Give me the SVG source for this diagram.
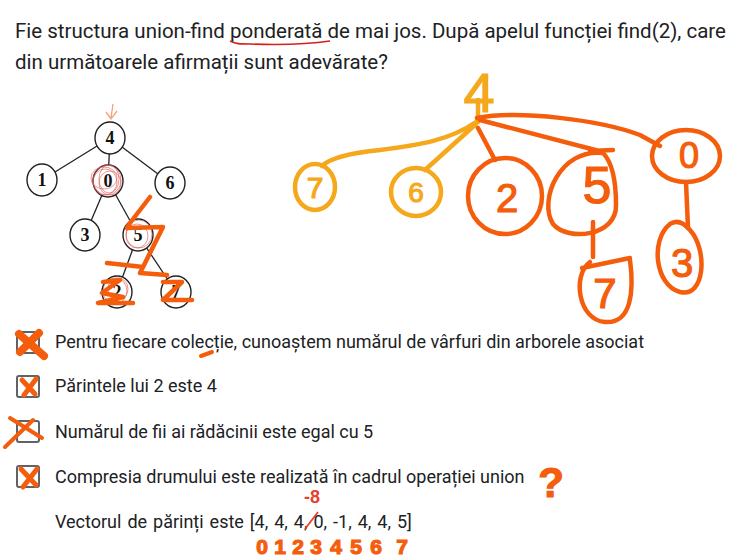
<svg xmlns="http://www.w3.org/2000/svg" width="754" height="560" viewBox="0 0 754 560">
<style>
.q{font-family:Roboto,"Liberation Sans",sans-serif;fill:#202124}
.t{font-size:20.5px}
.i{font-size:18px}
.box{fill:none;stroke:#5f6368;stroke-width:2}
.e{stroke:#222;stroke-width:1.3;fill:none}
.n{fill:#fff;stroke:#222;stroke-width:1.4}
.nl{font-family:"Liberation Serif",serif;font-weight:bold;font-size:18px;fill:#111;text-anchor:middle}
.o{fill:none;stroke:#f45d0c;stroke-width:4.5;stroke-linecap:round;stroke-linejoin:round}
.y{fill:none;stroke:#f5a81c;stroke-width:4.5;stroke-linecap:round;stroke-linejoin:round}
.ot{font-family:"Liberation Sans",sans-serif;fill:#f45d0c;stroke:#f45d0c;stroke-width:1.2;text-anchor:middle}
.yt{font-family:"Liberation Sans",sans-serif;fill:#f5a81c;stroke:#f5a81c;stroke-width:1.2;text-anchor:middle}
.rs{fill:none;stroke:#e05a5a;stroke-width:0.8;opacity:0.8}
.x{fill:none;stroke:#f45d0c;stroke-linecap:round;stroke-linejoin:round}
</style>
<rect width="754" height="560" fill="#fff"/>
<!-- question -->
<text class="q t" x="15" y="38">Fie structura union-find ponderată de mai jos. După apelul funcției find(2), care</text>
<text class="q t" x="15" y="69">din următoarele afirmații sunt adevărate?</text>
<path d="M230,41 C 236,44 240,44 250,44 C 280,45 310,44 330,41" fill="none" stroke="#d52020" stroke-width="1.6"/>
<!-- left tree connectors -->
<g id="connectors">
<line class="e" x1="110" y1="138" x2="42" y2="180"/>
<line class="e" x1="110" y1="138" x2="108" y2="181"/>
<line class="e" x1="110" y1="138" x2="170" y2="183"/>
<line class="e" x1="108" y1="181" x2="85" y2="235"/>
<line class="e" x1="108" y1="181" x2="138" y2="235"/>
<line class="e" x1="138" y1="235" x2="117" y2="292"/>
<line class="e" x1="138" y1="235" x2="176" y2="292"/>
</g>
<g id="n4"><ellipse class="n" cx="110" cy="138" rx="15" ry="16"/><text class="nl" x="110" y="144">4</text></g>
<g id="n1"><ellipse class="n" cx="42" cy="180" rx="15" ry="16"/><text class="nl" x="42" y="186">1</text></g>
<g id="n0"><ellipse class="n" cx="108" cy="181" rx="15" ry="16"/><text class="nl" x="108" y="187">0</text></g>
<g id="n6"><ellipse class="n" cx="170" cy="183" rx="15" ry="16"/><text class="nl" x="170" y="189">6</text></g>
<g id="n3"><ellipse class="n" cx="85" cy="235" rx="15" ry="16"/><text class="nl" x="85" y="241">3</text></g>
<g id="n5"><ellipse class="n" cx="138" cy="235" rx="15" ry="16"/><text class="nl" x="138" y="241">5</text></g>
<g id="n2"><ellipse class="n" cx="117" cy="292" rx="15" ry="16"/><text class="nl" x="117" y="298">2</text></g>
<g id="n7"><ellipse class="n" cx="176" cy="292" rx="15" ry="16"/><text class="nl" x="176" y="298">7</text></g>
<!-- red scribbles -->
<g>
<ellipse class="rs" cx="107" cy="180" rx="14" ry="15"/>
<ellipse class="rs" cx="105" cy="182" rx="12" ry="13"/>
<ellipse class="rs" cx="109" cy="179" rx="10" ry="14"/>
<ellipse class="rs" cx="104" cy="178" rx="13" ry="11"/>
<ellipse class="rs" cx="110" cy="183" rx="11" ry="12"/>
<ellipse class="rs" cx="139" cy="234" rx="13" ry="14"/>
<ellipse class="rs" cx="137" cy="236" rx="11" ry="12"/>
<ellipse class="rs" cx="115" cy="291" rx="12" ry="13"/>
<ellipse class="rs" cx="118" cy="289" rx="10" ry="11"/>
</g>
<path d="M113,104 L111,118 M106,112 L111,119 L117,111" fill="none" stroke="#f4a07a" stroke-width="1.3"/>
<!-- orange scribbles over left tree -->
<path class="o" d="M150,197 L130,223 L127,228 L163,227 L140,273 M107,263 L143,267 M140,273 L167,275 M163,282 L182,282 L163,300 L192,300 M103,282 L120,280 L102,293 L123,297 L98,303 L133,303"/>
<!-- right tree -->
<g id="connectors-right">
<path class="y" d="M478,100 L478,122 M476,122 C 450,140 420,145 380,150 C 350,153 330,158 322,166 M476,124 L 425,170"/>
<path class="o" d="M477,118 C 520,110 600,120 640,135 L 660,146 M480,120 L603,152 M590,151 L613,150 M478,128 L495,160 M593,222 L593,257 M686,182 L688,228"/>
</g>
<g id="r4"><text class="yt" x="479" y="112" font-size="56">4</text></g>
<g id="r7"><ellipse class="y" cx="315" cy="187" rx="20" ry="23"/><text class="yt" x="315" y="198" font-size="30">7</text></g>
<g id="r6"><ellipse class="y" cx="416" cy="192" rx="25" ry="24"/><text class="yt" x="416" y="202" font-size="28">6</text></g>
<g id="r2"><ellipse class="o" cx="505" cy="196" rx="37" ry="38"/><text class="ot" x="507" y="212" font-size="40">2</text></g>
<g id="r5"><path class="o" d="M603,153 C 560,148 538,200 553,224 C 568,242 617,236 616,205 C 616,180 612,162 603,153"/><text class="ot" x="597" y="203" font-size="52">5</text></g>
<g id="r0"><ellipse class="o" cx="686" cy="156" rx="34" ry="26"/><text class="ot" x="689" y="168" font-size="36">0</text></g>
<g id="r3"><path class="o" d="M670,224 C 650,240 655,285 680,292 C 705,298 708,250 690,230 C 683,222 676,220 670,224"/><text class="ot" x="682" y="277" font-size="40">3</text></g>
<g id="r7b"><path class="o" d="M590,262 C 572,275 578,320 605,322 C 632,324 634,290 630,260 M582,268 L630,258"/><text class="ot" x="605" y="308" font-size="42">7</text></g>
<!-- checkboxes -->
<g id="opt1"><rect class="box" x="17" y="332" width="22" height="21" rx="2"/><path class="x" stroke-width="8" d="M19,334 L44,356 M39,333 L20,352"/><text class="q i" x="55" y="348">Pentru fiecare colecție, cunoaștem numărul de vârfuri din arborele asociat</text><path class="x" stroke-width="4" d="M201,356 L212,352"/></g>
<g id="opt2"><rect class="box" x="17" y="376" width="22" height="21" rx="2"/><path class="x" stroke-width="5" d="M22,380 L35,394 M36,379 L24,395"/><text class="q i" x="55" y="392">Părintele lui 2 este 4</text></g>
<g id="opt3"><rect class="box" x="17" y="421" width="22" height="21" rx="2"/><path class="x" stroke-width="4" d="M10,418 L42,438 M33,420 L5,447"/><text class="q i" x="55" y="438">Numărul de fii ai rădăcinii este egal cu 5</text></g>
<g id="opt4"><rect class="box" x="17" y="466" width="22" height="21" rx="2"/><path class="x" stroke-width="5" d="M21,469 L36,485 M37,469 L23,487"/><text class="q i" x="55" y="483">Compresia drumului este realizată în cadrul operației union</text></g>
<text class="ot" x="551" y="497" font-size="42" font-weight="bold" stroke-width="0">?</text>
<text class="q i" x="55" y="528" word-spacing="1.5">Vectorul de părinți este [4, 4, 4, 0, -1, 4, 4, 5]</text>
<path d="M305,529 L318,512" fill="none" stroke="#e8402a" stroke-width="1.8"/>
<text x="312" y="503" font-family="Liberation Sans,sans-serif" font-weight="bold" font-size="18" fill="#e8402a" text-anchor="middle">-8</text>
<text class="ot" font-size="21" font-weight="bold" stroke-width="0" y="554"><tspan x="262">0</tspan><tspan x="280">1</tspan><tspan x="298">2</tspan><tspan x="316">3</tspan><tspan x="336">4</tspan><tspan x="356">5</tspan><tspan x="376">6</tspan><tspan x="402">7</tspan></text>
</svg>
